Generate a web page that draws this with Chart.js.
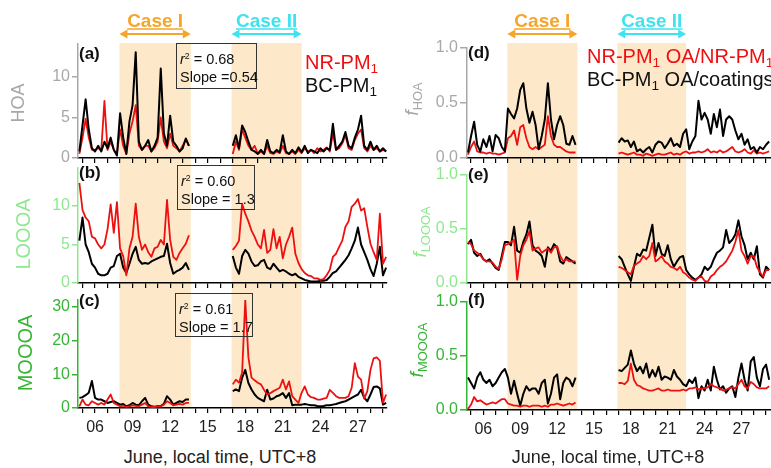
<!DOCTYPE html>
<html>
<head>
<meta charset="utf-8">
<title>OA factors, NR-PM1 vs BC-PM1</title>
<script src="https://cdn.jsdelivr.net/npm/chart.js@4.4.0/dist/chart.umd.min.js"></script>
<style>
    body { margin: 0; background: #fff; font-family: 'Liberation Sans', Arial, sans-serif; }
    #wrap { position: relative; width: 771px; height: 468px; overflow: hidden; }
    canvas { position: absolute; }
    .txt { position: absolute; white-space: nowrap; line-height: 1; }
    .lbl { position: absolute; font-weight: bold; font-size: 17px; line-height: 1; color: #111; }
    .rot { position: absolute; white-space: nowrap; line-height: 1; transform: translate(-50%, -50%) rotate(-90deg); }
    .box { position: absolute; border: 1.5px solid #333; box-sizing: border-box; font-size: 14.5px; line-height: 15.5px; padding: 8px 0 0 3px; color: #111; white-space: nowrap; }
    .sb { font-size: 0.68em; position: relative; top: 0.3em; }
    .sp { font-size: 0.6em; position: relative; top: -0.6em; }
</style>
</head>
<body>
<div id="wrap">
    <canvas id="pa"></canvas>
    <canvas id="pb"></canvas>
    <canvas id="pc"></canvas>
    <canvas id="pd"></canvas>
    <canvas id="pe"></canvas>
    <canvas id="pf"></canvas>

    <!-- axis titles -->
    <div class="rot" style="left:18px; top:103px; font-size:18px; color:#a8a8a8;">HOA</div>
    <div class="rot" style="left:23px; top:234px; font-size:20px; color:#8fe88f;">LOOOA</div>
    <div class="rot" style="left:25px; top:353px; font-size:20px; color:#34b534;">MOOOA</div>
    <div class="rot" style="left:411px; top:99px; font-size:19px; color:#a8a8a8;"><i>f</i><span class="sb">HOA</span></div>
    <div class="rot" style="left:419px; top:232px; font-size:19px; color:#8fe88f;"><i>f</i><span class="sb">LOOOA</span></div>
    <div class="rot" style="left:416px; top:350px; font-size:19px; color:#34b534;"><i>f</i><span class="sb">MOOOA</span></div>

    <!-- panel letters -->
    <div class="lbl" style="left:79px; top:45px;">(a)</div>
    <div class="lbl" style="left:79px; top:164px;">(b)</div>
    <div class="lbl" style="left:79px; top:292px;">(c)</div>
    <div class="lbl" style="left:468px; top:44px;">(d)</div>
    <div class="lbl" style="left:468px; top:166px;">(e)</div>
    <div class="lbl" style="left:468px; top:291px;">(f)</div>

    <!-- regression boxes -->
    <div class="box" style="left:176px; top:43px; width:81px; height:46px;"><i>r</i><span class="sp">2</span> = 0.68<br>Slope =0.54</div>
    <div class="box" style="left:177px; top:165px; width:78px; height:45px;"><i>r</i><span class="sp">2</span> = 0.60<br>Slope = 1.3</div>
    <div class="box" style="left:175px; top:293px; width:78px; height:44px;"><i>r</i><span class="sp">2</span> = 0.61<br>Slope = 1.7</div>

    <!-- legends -->
    <div class="txt" style="left:305px; top:52px; font-size:20px; color:#ee1010;">NR-PM<span class="sb">1</span></div>
    <div class="txt" style="left:305px; top:75px; font-size:20px; color:#111;">BC-PM<span class="sb">1</span></div>
    <div class="txt" style="left:587px; top:46px; font-size:20px; color:#ee1010;">NR-PM<span class="sb">1</span> OA/NR-PM<span class="sb">1</span></div>
    <div class="txt" style="left:587px; top:69px; font-size:20px; color:#111;">BC-PM<span class="sb">1</span> OA/coatings</div>

    <!-- x titles -->
    <div class="txt" style="left:220px; top:448px; font-size:18px; color:#222; transform:translateX(-50%);">June, local time, UTC+8</div>
    <div class="txt" style="left:608px; top:448px; font-size:18px; color:#222; transform:translateX(-50%);">June, local time, UTC+8</div>
</div>

<script>
// ===== DATA =====
// 6-hourly samples; segment 1 = 4.75 .. 13.5 June (36), segment 2 = 17.0 .. 29.25 June (50)
var gapCount = 13;

// HOA (ug/m3)
var hoaNR1 = [0.5,2.5,4.8,2.5,1.0,1.0,1.2,1.0,7.0,1.0, 2.0,1.0,0.5,3.5,1.5,0.5,3.0,4.5,6.5,1.5,
              1.0,1.5,1.5,0.8,1.2,2.0,5.0,2.0,1.2,3.0, 1.5,1.2,0.8,1.5,2.3,1.5];
var hoaBC1 = [0.8,4.0,7.2,3.5,1.2,0.8,1.5,0.8,2.0,1.2, 2.5,1.0,0.3,5.5,2.5,0.5,4.5,6.5,13.0,2.0,
              1.0,1.5,2.2,0.8,1.5,2.5,11.0,3.0,1.5,5.2, 2.0,1.5,0.8,1.2,2.4,1.5];
var hoaNR2 = [0.5,2.0,1.0,3.5,2.5,1.5,1.0,1.5,0.5,0.8, 0.5,1.5,0.6,0.5,0.8,0.6,1.5,0.6,0.5,0.8,
              0.5,1.0,0.6,1.2,0.8,1.0,0.6,1.2,0.8,1.0, 1.3,0.8,3.0,1.0,1.2,1.8,2.8,1.2,1.0,2.2,
              3.0,3.5,1.2,0.8,1.5,1.0,1.2,0.8,1.0,0.8];
var hoaBC2 = [1.5,2.8,1.2,4.0,3.2,2.0,1.0,0.8,0.5,1.0, 0.5,2.2,0.8,0.6,1.0,0.7,2.8,0.8,0.5,1.0,
              0.6,1.3,0.7,1.5,0.6,1.0,0.8,0.6,1.2,0.8, 1.2,1.0,4.2,1.0,1.5,2.0,3.2,1.5,1.2,2.5,
              3.5,5.2,1.5,1.0,2.0,1.0,1.5,0.8,1.2,0.8];

// LOOOA
var looNR1 = [13.0,9.5,8.5,8.0,6.0,5.8,5.0,4.5,5.0,7.0, 10.2,6.5,10.5,4.5,3.5,1.0,4.5,6.0,10.3,6.0,
              4.3,5.0,4.0,3.4,4.5,4.7,5.6,5.0,10.8,5.6, 3.4,3.0,3.9,4.5,5.1,6.2];
var looBC1 = [5.5,8.5,5.0,4.0,2.5,2.0,1.2,1.0,1.0,1.2, 2.0,2.2,3.5,3.8,2.0,1.3,2.5,3.8,4.7,3.0,
              2.5,2.6,2.5,2.8,3.0,3.2,3.4,3.5,5.1,2.6, 1.2,1.5,1.7,2.0,2.6,1.7];
var looNR2 = [4.3,4.8,5.5,10.3,9.0,8.0,6.8,6.0,5.0,4.5, 6.9,3.9,4.3,7.0,4.5,6.0,3.2,5.0,6.0,7.2,
              3.8,2.6,1.8,1.3,1.0,0.9,0.6,0.6,0.4,0.5, 1.0,1.7,3.4,3.8,4.7,5.5,7.3,8.0,9.9,10.3,
              10.9,9.4,9.7,7.3,5.1,4.0,3.0,9.0,2.5,3.4];
var looBC2 = [3.5,2.0,1.2,3.5,4.3,3.8,2.8,2.2,2.3,2.8, 3.0,2.0,1.8,2.5,2.0,1.5,1.7,1.5,1.2,1.0,
              1.2,0.8,0.6,0.4,0.3,0.2,0.2,0.2,0.3,0.3, 0.4,0.8,1.3,1.5,2.0,2.5,3.0,3.6,4.5,5.5,
              7.2,5.0,4.0,3.0,1.8,0.9,2.5,4.7,1.0,2.0];

// MOOOA
var mooNR1 = [0.5,2.5,1.0,0.8,2.0,1.5,1.0,1.5,1.0,2.5, 4.0,1.5,1.0,0.5,0.7,0.3,0.5,0.8,0.6,0.5,
              1.0,1.5,0.5,0.3,0.3,0.4,0.5,1.0,2.0,1.5, 0.8,1.0,1.2,1.0,1.5,1.5];
var mooBC1 = [3.0,3.2,3.8,4.5,8.0,3.0,2.5,2.5,2.0,1.5, 1.8,2.0,1.5,1.0,1.2,0.5,0.8,1.5,1.0,0.8,
              2.0,3.0,1.0,0.5,0.4,0.5,0.6,1.2,3.5,2.5, 1.0,1.5,2.0,1.8,2.5,2.5];
var mooNR2 = [7.0,8.4,7.5,10.5,32.0,15.0,9.0,8.2,7.5,7.0, 5.4,4.0,4.4,5.0,5.5,6.0,8.4,5.5,7.9,3.5,
              2.5,1.5,4.5,6.4,4.0,3.2,3.0,2.5,2.5,2.8, 3.0,5.4,4.5,3.5,3.0,3.0,3.0,3.5,6.0,13.3,
              9.3,8.4,2.8,5.0,11.3,14.7,15.0,14.0,1.5,4.0];
var mooBC2 = [5.0,5.5,5.0,9.0,11.3,7.4,5.5,4.0,3.0,2.5, 2.0,5.4,2.5,2.8,3.5,3.8,4.4,3.0,4.4,0.8,
              1.0,1.0,1.0,1.2,1.0,0.8,0.8,0.6,0.5,0.6, 0.8,0.8,1.0,1.2,1.5,1.8,2.0,2.5,3.0,3.5,
              4.0,5.4,3.0,2.0,4.0,6.2,6.4,5.8,1.0,1.5];

// fHOA
var fhoaNR1 = [0.03,0.1,0.15,0.06,0.05,0.05,0.04,0.05,0.04,0.04, 0.03,0.04,0.05,0.18,0.2,0.25,0.12,0.28,0.3,0.18,
               0.1,0.08,0.1,0.08,0.1,0.12,0.38,0.2,0.12,0.1, 0.1,0.08,0.06,0.05,0.05,0.05];
var fhoaBC1 = [0.05,0.2,0.33,0.12,0.06,0.17,0.1,0.2,0.06,0.21, 0.18,0.1,0.06,0.45,0.4,0.36,0.45,0.62,0.68,0.45,
               0.32,0.42,0.3,0.08,0.2,0.35,0.68,0.35,0.17,0.3, 0.38,0.3,0.13,0.12,0.2,0.12];
var fhoaNR2 = [0.04,0.05,0.04,0.03,0.04,0.05,0.03,0.03,0.02,0.04, 0.03,0.02,0.03,0.04,0.03,0.03,0.04,0.05,0.03,0.04,
               0.03,0.05,0.06,0.04,0.05,0.05,0.06,0.05,0.06,0.08, 0.05,0.06,0.05,0.07,0.05,0.06,0.08,0.1,0.06,0.05,
               0.06,0.08,0.05,0.04,0.07,0.04,0.05,0.04,0.05,0.06];
var fhoaBC2 = [0.14,0.18,0.15,0.16,0.1,0.15,0.06,0.08,0.05,0.08, 0.1,0.05,0.12,0.15,0.14,0.09,0.13,0.18,0.11,0.13,
               0.1,0.22,0.26,0.08,0.15,0.2,0.52,0.35,0.41,0.35, 0.22,0.4,0.28,0.44,0.2,0.35,0.38,0.35,0.25,0.17,
               0.22,0.12,0.17,0.08,0.1,0.05,0.1,0.08,0.12,0.15];

// fLOOOA
var flooNR1 = [0.38,0.36,0.3,0.28,0.26,0.22,0.2,0.2,0.19,0.15, 0.13,0.22,0.35,0.36,0.38,0.4,0.03,0.25,0.35,0.4,
               0.48,0.3,0.32,0.33,0.28,0.3,0.32,0.28,0.33,0.34, 0.25,0.2,0.22,0.2,0.2,0.2];
var flooBC1 = [0.36,0.4,0.28,0.25,0.27,0.22,0.2,0.22,0.18,0.14, 0.12,0.25,0.38,0.38,0.35,0.52,0.3,0.28,0.38,0.45,
               0.57,0.35,0.3,0.28,0.25,0.15,0.33,0.3,0.36,0.33, 0.2,0.18,0.24,0.22,0.2,0.18];
var flooNR2 = [0.15,0.14,0.12,0.1,0.08,0.16,0.18,0.2,0.25,0.22, 0.25,0.37,0.2,0.22,0.25,0.2,0.18,0.15,0.14,0.12,
               0.15,0.1,0.08,0.05,0.03,0.02,0.05,0.06,0.02,0.01, 0.06,0.08,0.12,0.15,0.17,0.2,0.25,0.3,0.38,0.49,
               0.3,0.25,0.18,0.25,0.25,0.15,0.1,0.06,0.12,0.12];
var flooBC2 = [0.25,0.22,0.15,0.08,0.02,0.15,0.27,0.25,0.31,0.3, 0.42,0.54,0.25,0.37,0.27,0.25,0.35,0.22,0.15,0.2,
               0.24,0.25,0.12,0.08,0.05,0.03,0.05,0.08,0.15,0.12, 0.15,0.22,0.28,0.3,0.33,0.49,0.37,0.4,0.45,0.58,
               0.43,0.35,0.22,0.28,0.22,0.34,0.08,0.05,0.15,0.12];

// fMOOOA
var fmooNR1 = [0.01,0.05,0.12,0.08,0.09,0.07,0.05,0.06,0.07,0.06, 0.08,0.1,0.1,0.06,0.05,0.04,0.04,0.03,0.04,0.04,
               0.03,0.04,0.04,0.04,0.03,0.04,0.03,0.05,0.05,0.06, 0.05,0.04,0.05,0.06,0.05,0.07];
var fmooBC1 = [0.3,0.25,0.2,0.3,0.35,0.28,0.25,0.28,0.22,0.25, 0.3,0.35,0.38,0.3,0.15,0.27,0.15,0.04,0.15,0.22,
               0.18,0.2,0.2,0.15,0.25,0.28,0.06,0.15,0.3,0.33, 0.1,0.25,0.3,0.28,0.22,0.3];
var fmooNR2 = [0.25,0.25,0.24,0.27,0.43,0.28,0.23,0.22,0.2,0.19, 0.18,0.18,0.19,0.2,0.18,0.18,0.19,0.18,0.18,0.18,
               0.18,0.19,0.18,0.2,0.2,0.21,0.19,0.2,0.2,0.21, 0.24,0.22,0.21,0.2,0.18,0.19,0.2,0.21,0.2,0.24,
               0.28,0.22,0.2,0.26,0.24,0.21,0.2,0.2,0.2,0.22];
var fmooBC2 = [0.37,0.36,0.39,0.42,0.55,0.43,0.36,0.4,0.34,0.43, 0.3,0.37,0.31,0.4,0.28,0.31,0.3,0.28,0.37,0.31,
               0.28,0.24,0.22,0.28,0.25,0.3,0.11,0.22,0.18,0.28, 0.18,0.4,0.28,0.19,0.22,0.16,0.2,0.22,0.12,0.3,
               0.43,0.28,0.18,0.45,0.49,0.3,0.22,0.38,0.42,0.28];

// axis ticks and case periods
var xTickDays = [5,6,7,8,9,10,11,12,13,14,15,16,17,18,19,20,21,22,23,24,25,26,27,28,29];
var xLabelDays = [6,9,12,15,18,21,24,27];
var hoaTicks = [0,5,10];
var looTicks = [0,5,10];
var mooTicks = [0,10,20,30];
var fracTicks = [0,0.5,1.0];
var caseSpans = [[7.95, 13.65], [16.9, 22.5]];
var caseNames = ['Case I', 'Case II'];
var caseColors = ['#f5a52a', '#3fe3f0'];

// sample times (days of June)
var days = [];
for (var d = 4.75; d <= 29.25; d += 0.25) days.push(d);

function joinSeg(a, b) {
    var gap = [];
    for (var i = 0; i < gapCount; i++) gap.push(null);
    return a.concat(gap, b);
}

// ===== SHADING + CASE ARROWS =====
function drawArrow(ctx, x0, x1, y, color) {
    var head = 8, half = 4.5;
    ctx.strokeStyle = color;
    ctx.fillStyle = color;
    ctx.lineWidth = 2;
    ctx.beginPath(); ctx.moveTo(x0 + head - 1, y); ctx.lineTo(x1 - head + 1, y); ctx.stroke();
    ctx.beginPath(); ctx.moveTo(x0, y); ctx.lineTo(x0 + head, y - half); ctx.lineTo(x0 + head, y + half); ctx.closePath(); ctx.fill();
    ctx.beginPath(); ctx.moveTo(x1, y); ctx.lineTo(x1 - head, y - half); ctx.lineTo(x1 - head, y + half); ctx.closePath(); ctx.fill();
}

var shadePlugin = {
    id: 'shade',
    beforeDraw: function(chart, args, opts) {
        var ctx = chart.ctx, area = chart.chartArea, x = chart.scales.x;
        var bottom = opts.toCanvasBottom ? chart.height : area.bottom;
        ctx.save();
        caseSpans.forEach(function(s, i) {
            var x0 = x.getPixelForValue(s[0]);
            var x1 = x.getPixelForValue(s[1]);
            ctx.fillStyle = '#fde9c9';
            ctx.fillRect(x0, opts.top, x1 - x0, bottom - opts.top);
            if (opts.arrows) {
                var cx = (x0 + x1) / 2;
                drawArrow(ctx, x0, x1, 34, caseColors[i]);
                ctx.font = 'bold 19px "Liberation Sans", Arial, sans-serif';
                ctx.textAlign = 'center';
                ctx.textBaseline = 'alphabetic';
                ctx.fillStyle = caseColors[i];
                ctx.fillText(caseNames[i], cx, 27);
                var w = ctx.measureText(caseNames[i]).width;
                ctx.lineWidth = 1.5;
                ctx.beginPath(); ctx.moveTo(cx - w / 2, 29); ctx.lineTo(cx + w / 2, 29); ctx.stroke();
            }
        });
        ctx.restore();
    }
};

// ===== PANELS =====
var panels = [
    { id: 'pa', left: 0, top: 0, w: 390, h: 166, padT: 44, padR: 3, axisW: 78, axisH: 8, xMin: 4.64, xMax: 29.32,
      yMax: 14, yTicks: hoaTicks, color: '#a8a8a8', nr: joinSeg(hoaNR1, hoaNR2), bc: joinSeg(hoaBC1, hoaBC2),
      shadeTop: 43, toCanvasBottom: true, arrows: true, xLabels: false, blackOnTop: true, dec: 0, tickY: 6 },
    { id: 'pb', left: 0, top: 166, w: 390, h: 126, padT: 1.5, padR: 3, axisW: 78, axisH: 9, xMin: 4.64, xMax: 29.32,
      yMax: 15, yTicks: looTicks, color: '#8fe88f', nr: joinSeg(looNR1, looNR2), bc: joinSeg(looBC1, looBC2),
      shadeTop: 0, toCanvasBottom: true, arrows: false, xLabels: false, blackOnTop: false, dec: 0, tickY: 6 },
    { id: 'pc', left: 0, top: 292, w: 390, h: 150, padT: 8, padR: 3, axisW: 78, axisH: 34, xMin: 4.64, xMax: 29.32,
      yMax: 32, yTicks: mooTicks, color: '#34b534', nr: joinSeg(mooNR1, mooNR2), bc: joinSeg(mooBC1, mooBC2),
      shadeTop: 0, toCanvasBottom: false, arrows: false, xLabels: true, blackOnTop: false, dec: 0, tickY: 6 },
    { id: 'pd', left: 385, top: 0, w: 386, h: 166, padT: 48, padR: 0, axisW: 82, axisH: 8, xMin: 4.67, xMax: 29.4,
      yMax: 1.0, yTicks: fracTicks, color: '#a8a8a8', nr: joinSeg(fhoaNR1, fhoaNR2), bc: joinSeg(fhoaBC1, fhoaBC2),
      shadeTop: 43, toCanvasBottom: true, arrows: true, xLabels: false, blackOnTop: true, dec: 1, tickY: 7 },
    { id: 'pe', left: 385, top: 166, w: 386, h: 126, padT: 9, padR: 0, axisW: 82, axisH: 9, xMin: 4.67, xMax: 29.4,
      yMax: 1.0, yTicks: fracTicks, color: '#8fe88f', nr: joinSeg(flooNR1, flooNR2), bc: joinSeg(flooBC1, flooBC2),
      shadeTop: 0, toCanvasBottom: true, arrows: false, xLabels: false, blackOnTop: false, dec: 1, tickY: 7 },
    { id: 'pf', left: 385, top: 292, w: 386, h: 150, padT: 10, padR: 0, axisW: 82, axisH: 32, xMin: 4.67, xMax: 29.4,
      yMax: 1.0, yTicks: fracTicks, color: '#34b534', nr: joinSeg(fmooNR1, fmooNR2), bc: joinSeg(fmooBC1, fmooBC2),
      shadeTop: 0, toCanvasBottom: false, arrows: false, xLabels: true, blackOnTop: false, dec: 1, tickY: 7 }
];

Chart.defaults.font.family = "'Liberation Sans', Arial, sans-serif";

function makePanel(p) {
    var cv = document.getElementById(p.id);
    cv.width = p.w;
    cv.height = p.h;
    cv.style.left = p.left + 'px';
    cv.style.top = p.top + 'px';

    return new Chart(cv.getContext('2d'), {
        type: 'line',
        data: {
            labels: days,
            datasets: [{
                label: 'BC-PM1',
                data: p.bc,
                borderColor: '#000',
                borderWidth: 2,
                order: p.blackOnTop ? 0 : 1
            }, {
                label: 'NR-PM1',
                data: p.nr,
                borderColor: '#ee1010',
                borderWidth: 1.8,
                order: p.blackOnTop ? 1 : 0
            }]
        },
        options: {
            responsive: false,
            animation: false,
            devicePixelRatio: 1,
            spanGaps: false,
            elements: {
                point: { radius: 0 },
                line: { tension: 0, borderJoinStyle: 'round' }
            },
            layout: { padding: { left: 0, right: p.padR, top: p.padT, bottom: 0 } },
            plugins: {
                legend: { display: false },
                tooltip: { enabled: false },
                shade: { top: p.shadeTop, toCanvasBottom: p.toCanvasBottom, arrows: p.arrows }
            },
            scales: {
                x: {
                    type: 'linear',
                    min: p.xMin,
                    max: p.xMax,
                    afterBuildTicks: function(s) { s.ticks = xTickDays.map(function(v) { return { value: v }; }); },
                    afterFit: function(s) { s.height = p.axisH; s.paddingLeft = 0; s.paddingRight = 0; },
                    grid: { drawOnChartArea: false, drawTicks: true, tickLength: 5, color: '#000', lineWidth: 1.2 },
                    border: { display: true, color: '#000', width: 1.5 },
                    ticks: {
                        display: p.xLabels,
                        autoSkip: false,
                        maxRotation: 0,
                        color: '#222',
                        font: { size: 16 },
                        padding: 5,
                        callback: function(v) {
                            if (xLabelDays.indexOf(v) < 0) return '';
                            return v < 10 ? '0' + v : String(v);
                        }
                    }
                },
                y: {
                    min: 0,
                    max: p.yMax,
                    afterBuildTicks: function(s) { s.ticks = p.yTicks.map(function(v) { return { value: v }; }); },
                    afterFit: function(s) { s.width = p.axisW; s.paddingTop = 0; s.paddingBottom = 0; },
                    grid: { drawOnChartArea: false, drawTicks: true, tickLength: p.tickY, color: p.color, lineWidth: 1.5 },
                    border: { display: true, color: p.color, width: 1.5 },
                    ticks: {
                        color: p.color,
                        font: { size: 16 },
                        padding: 2,
                        callback: function(v) { return p.dec ? v.toFixed(1) : String(v); }
                    }
                }
            }
        },
        plugins: [shadePlugin]
    });
}

panels.forEach(makePanel);
</script>
</body>
</html>
